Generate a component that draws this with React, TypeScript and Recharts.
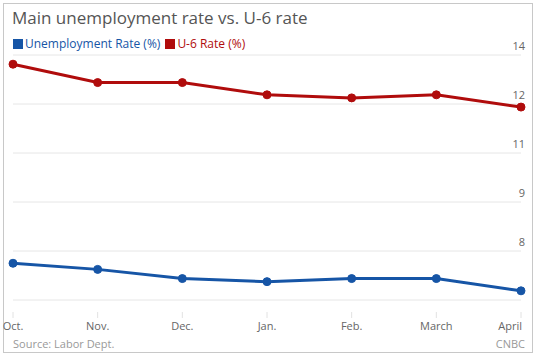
import React from 'react';
import { LineChart, Line, XAxis, YAxis, CartesianGrid } from 'recharts';

const months = ['Oct.', 'Nov.', 'Dec.', 'Jan.', 'Feb.', 'March', 'April'];
const unemployment = [7.2, 7.0, 6.7, 6.6, 6.7, 6.7, 6.3];
const u6 = [13.7, 13.1, 13.1, 12.7, 12.6, 12.7, 12.3];
const yTicks = [6, 7.6, 9.2, 10.8, 12.4, 14];

const BLUE = '#1655a6';
const RED = '#b00c0c';
const FONT = '"Open Sans", "Noto Sans", sans-serif';

const rows = months.map((m, i) => ({ month: m, rate: unemployment[i], u6: u6[i] }));

const MonthTick = (props: any) => {
  const { x, y, payload, index } = props;
  const last = index === months.length - 1;
  return (
    <g>
      <line x1={x} x2={x} y1={y + 4} y2={y + 10} stroke="#e2e2e2" />
      <text x={last ? x + 1 : x} y={y + 22} textAnchor={last ? 'end' : 'middle'} fill="#666" fontSize={11} fontFamily={FONT}>
        {payload.value}
      </text>
    </g>
  );
};

const RightTick = (props: any) => {
  const { y, payload } = props;
  if (payload.value === 6) return null;
  return (
    <text x={525} y={y - 5} textAnchor="end" fill="#666" fontSize={11} fontFamily={FONT}>
      {Math.round(payload.value)}
    </text>
  );
};

export default function App() {
  return (
    <div style={{ position: 'absolute', left: 0, top: 0, width: 537, height: 357, background: '#fff', fontFamily: FONT }}>
      <div style={{ position: 'absolute', left: 3, top: 3, width: 528, height: 348, border: '1px solid #c8c8c8' }} />
      <div style={{ position: 'absolute', left: 12, top: 6, fontSize: 17, color: '#555', whiteSpace: 'nowrap' }}>
        Main unemployment rate vs. U-6 rate
      </div>
      <div style={{ position: 'absolute', left: 13, top: 35, fontSize: 12, whiteSpace: 'nowrap', display: 'flex', alignItems: 'center' }}>
        <span style={{ display: 'inline-block', width: 10, height: 10, background: BLUE, marginRight: 2 }} />
        <span style={{ color: BLUE, marginRight: 5 }}>Unemployment Rate (%)</span>
        <span style={{ display: 'inline-block', width: 10, height: 10, background: RED, marginRight: 2 }} />
        <span style={{ color: RED }}>U-6 Rate (%)</span>
      </div>
      <div style={{ position: 'absolute', left: 13, top: 336, fontSize: 11, color: '#999' }}>Source: Labor Dept.</div>
      <div style={{ position: 'absolute', right: 12, top: 336, fontSize: 11, color: '#999' }}>CNBC</div>
      <div style={{ position: 'absolute', left: 0, top: 0 }}>
        <LineChart width={537} height={357} data={rows} margin={{ top: 55, right: 0, bottom: 27, left: 13 }}>
          <CartesianGrid vertical={false} stroke="#e6e6e6" />
          <XAxis dataKey="month" axisLine={false} tickLine={false} height={30} tick={<MonthTick />} interval={0} />
          <YAxis orientation="right" domain={[6, 14]} ticks={yTicks} axisLine={false} tickLine={false} width={16} tick={<RightTick />} />
          <Line dataKey="u6" stroke={RED} strokeWidth={3} dot={{ r: 4, fill: RED, stroke: RED, strokeWidth: 1 }} isAnimationActive={false} />
          <Line dataKey="rate" stroke={BLUE} strokeWidth={3} dot={{ r: 4, fill: BLUE, stroke: BLUE, strokeWidth: 1 }} isAnimationActive={false} />
        </LineChart>
      </div>
    </div>
  );
}
